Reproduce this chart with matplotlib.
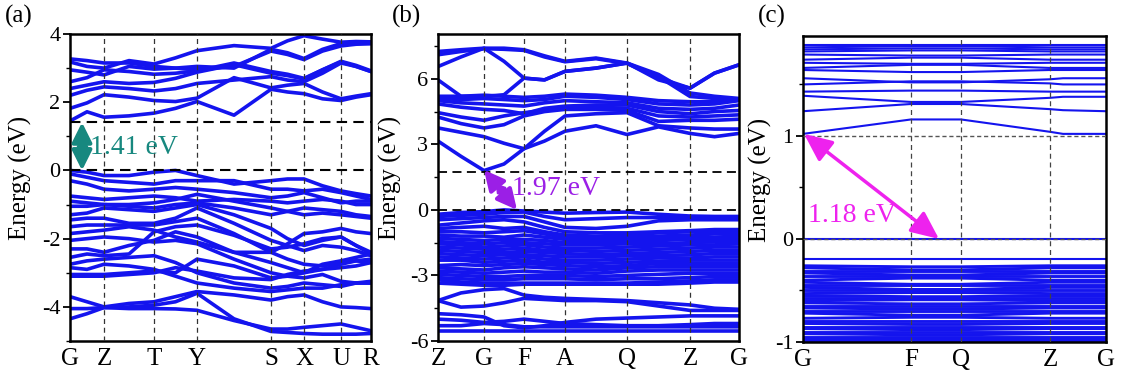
import numpy as np
import matplotlib
matplotlib.use('Agg')
import matplotlib.pyplot as plt
from matplotlib.ticker import MultipleLocator
from matplotlib.markers import MarkerStyle
from matplotlib.transforms import Affine2D

plt.rcParams['font.family'] = ['Liberation Serif', 'DejaVu Serif']
plt.rcParams['axes.unicode_minus'] = False

BLUE = '#1414EE'

# ---------------- panel (a) data ----------------
a_labels = ['G', 'Z', 'T', 'Y', 'S', 'X', 'U', 'R']
a_kpts = [0.0, 0.34, 0.84, 1.27, 2.01, 2.34, 2.71, 3.01]
a_gap = 1.41
# energies at G, G-Z, Z, Z-T, T, T-Y, Y, Y-S, S, S-X, X, X-U, U, U-R, R
a_cond = [
    [1.45, 1.72, 1.56, 1.60, 1.68, 1.82, 2.02, 1.62, 2.38, 2.30, 2.25, 2.10, 2.05, 2.15, 2.22],
    [1.82, 1.98, 2.22, 2.15, 2.05, 2.02, 2.12, 2.72, 2.42, 2.50, 2.55, 2.30, 2.10, 2.18, 2.25],
    [2.20, 2.35, 2.45, 2.40, 2.33, 2.40, 2.55, 2.65, 2.75, 2.65, 2.60, 2.85, 3.15, 3.05, 2.90],
    [2.40, 2.50, 2.60, 2.55, 2.58, 2.70, 2.88, 3.10, 2.85, 2.78, 2.68, 2.95, 3.20, 3.08, 2.92],
    [2.60, 2.72, 2.95, 2.90, 2.82, 2.85, 2.92, 3.15, 2.90, 2.82, 2.70, 2.95, 3.18, 3.05, 2.90],
    [2.95, 2.88, 2.80, 3.05, 2.97, 3.00, 3.05, 3.00, 3.55, 3.45, 3.28, 3.55, 3.72, 3.72, 3.72],
    [3.18, 3.05, 3.00, 3.22, 3.12, 3.30, 3.51, 3.66, 3.58, 3.80, 3.95, 3.85, 3.76, 3.78, 3.77],
    [3.27, 3.22, 3.15, 3.15, 3.05, 3.00, 2.95, 3.05, 3.50, 3.40, 3.25, 3.50, 3.65, 3.70, 3.72],
]
a_val = [
    [0.00, -0.05, -0.15, -0.15, -0.05, 0.00, -0.15, -0.40, -0.30, -0.25, -0.25, -0.45, -0.60, -0.68, -0.75],
    [-0.10, -0.20, -0.30, -0.35, -0.40, -0.30, -0.30, -0.30, -0.55, -0.55, -0.60, -0.55, -0.65, -0.75, -0.85],
    [-0.30, -0.40, -0.55, -0.60, -0.55, -0.50, -0.55, -0.65, -0.80, -0.75, -0.65, -0.80, -0.95, -0.90, -0.90],
    [-0.75, -0.80, -0.85, -0.80, -0.75, -0.80, -0.90, -0.85, -0.90, -0.95, -0.90, -0.85, -0.90, -1.00, -1.00],
    [-0.90, -0.95, -1.00, -1.00, -0.95, -0.85, -0.70, -0.90, -1.10, -1.20, -1.30, -1.25, -1.30, -1.35, -1.40],
    [-1.05, -1.05, -1.00, -1.05, -1.10, -1.00, -0.95, -1.10, -1.30, -1.20, -1.10, -1.15, -1.20, -1.30, -1.35],
    [-1.30, -1.25, -1.10, -1.15, -1.20, -1.10, -1.00, -1.30, -1.70, -2.00, -2.20, -2.05, -1.95, -2.20, -2.40],
    [-1.45, -1.40, -1.40, -1.55, -1.55, -1.40, -1.10, -1.55, -2.05, -2.20, -2.35, -2.20, -2.25, -2.35, -2.50],
    [-1.65, -1.60, -1.60, -1.60, -1.60, -1.50, -1.40, -1.85, -2.40, -2.60, -2.75, -2.80, -2.70, -2.65, -2.70],
    [-1.85, -1.80, -1.75, -1.65, -1.75, -1.95, -2.10, -2.40, -2.70, -2.85, -3.00, -2.90, -2.85, -2.80, -2.70],
    [-2.05, -2.00, -1.95, -2.00, -2.10, -2.05, -2.15, -2.60, -3.00, -3.10, -3.15, -3.05, -3.25, -3.30, -3.30],
    [-2.30, -2.30, -2.40, -2.20, -2.05, -1.80, -1.95, -2.40, -2.40, -2.15, -1.85, -1.80, -1.70, -1.80, -1.85],
    [-2.55, -2.45, -2.50, -2.45, -1.80, -1.65, -1.60, -1.90, -2.30, -2.25, -2.15, -2.00, -1.95, -2.20, -2.45],
    [-2.75, -2.65, -2.60, -2.55, -2.50, -2.70, -3.00, -3.30, -3.45, -3.40, -3.30, -3.35, -3.40, -3.30, -3.25],
    [-2.85, -2.90, -2.75, -2.80, -2.90, -3.10, -3.30, -3.45, -3.55, -3.50, -3.45, -3.45, -3.35, -3.30, -3.30],
    [-3.05, -3.05, -3.05, -3.00, -2.95, -3.00, -2.60, -2.80, -3.15, -3.10, -3.00, -2.75, -2.65, -2.55, -2.45],
    [-3.10, -3.10, -3.10, -3.05, -3.00, -2.85, -2.95, -3.15, -3.20, -3.05, -2.95, -2.90, -2.75, -2.65, -2.60],
    [-3.70, -3.85, -4.00, -3.90, -3.85, -3.70, -3.55, -3.65, -3.80, -3.70, -3.65, -3.85, -4.00, -4.02, -4.05],
    [-4.05, -4.05, -4.02, -4.05, -4.05, -4.06, -4.10, -4.40, -4.65, -4.65, -4.60, -4.55, -4.50, -4.60, -4.70],
    [-4.35, -4.20, -4.02, -4.00, -3.95, -3.85, -3.60, -4.35, -4.72, -4.75, -4.78, -4.80, -4.80, -4.80, -4.78],
]

# ---------------- panel (b) data ----------------
b_labels = ['Z', 'G', 'F', 'A', 'Q', 'Z', 'G']
b_kpts = [0.0, 0.46, 0.86, 1.27, 1.89, 2.52, 3.01]
b_cbm = 1.75
# energies at Z, Z-G, G, G-F, F, F-A, A, A-Q, Q, Q-Z, Z, Z-G, G
b_cond = [
    [3.15, 2.45, 1.80, 2.10, 2.80, 3.15, 3.60, 3.85, 3.45, 3.80, 3.50, 3.35, 3.50],
    [3.75, 3.55, 3.35, 3.05, 2.80, 3.60, 4.30, 4.40, 4.45, 3.85, 3.75, 3.70, 3.70],
    [4.25, 3.95, 3.75, 3.90, 4.30, 4.50, 4.60, 4.60, 4.55, 4.05, 4.10, 4.10, 4.15],
    [4.45, 4.25, 4.10, 4.30, 4.45, 4.55, 4.70, 4.70, 4.65, 4.30, 4.25, 4.30, 4.35],
    [4.85, 4.70, 4.60, 4.55, 4.40, 4.65, 4.75, 4.80, 4.80, 4.50, 4.40, 4.50, 4.55],
    [5.00, 4.90, 4.85, 4.80, 4.75, 4.90, 5.00, 4.95, 4.90, 4.65, 4.60, 4.65, 4.80],
    [5.10, 5.05, 5.10, 5.05, 5.00, 5.05, 5.20, 5.15, 5.05, 4.85, 4.80, 4.85, 5.00],
    [5.20, 5.20, 5.25, 5.20, 5.15, 5.20, 5.30, 5.25, 5.15, 5.00, 4.95, 4.95, 5.05],
    [5.95, 5.20, 5.19, 5.27, 6.03, 5.95, 6.34, 6.49, 6.72, 6.10, 5.19, 5.10, 5.04],
    [6.56, 7.00, 7.40, 6.80, 6.03, 5.95, 6.34, 6.49, 6.72, 6.20, 5.35, 5.20, 5.10],
    [7.10, 7.25, 7.38, 7.35, 7.30, 7.00, 6.78, 6.92, 6.70, 6.05, 5.57, 6.26, 6.64],
    [7.25, 7.33, 7.40, 7.40, 7.33, 7.05, 6.80, 6.95, 6.72, 5.95, 5.57, 6.26, 6.64],
]
b_val = [
    [-0.20, -0.12, -0.08, 0.00, -0.05, -0.10, -0.15, -0.12, -0.10, -0.20, -0.28, -0.30, -0.30],
    [-0.30, -0.25, -0.20, -0.12, -0.10, -0.30, -0.45, -0.40, -0.35, -0.35, -0.35, -0.40, -0.40],
    [-0.45, -0.40, -0.35, -0.30, -0.30, -0.55, -0.80, -0.85, -0.75, -0.50, -0.45, -0.45, -0.45],
    [-0.70, -0.60, -0.50, -0.45, -0.55, -0.80, -1.00, -1.05, -1.05, -1.00, -0.95, -0.90, -0.90],
    [-0.85, -0.80, -0.75, -0.85, -0.80, -1.00, -1.15, -1.20, -1.15, -1.05, -1.00, -1.00, -1.00],
    [-1.00, -1.00, -1.05, -1.00, -0.95, -1.10, -1.25, -1.30, -1.25, -1.20, -1.15, -1.10, -1.10],
    [-1.15, -1.20, -1.20, -1.25, -1.15, -1.25, -1.35, -1.40, -1.35, -1.30, -1.25, -1.25, -1.20],
    [-1.30, -1.35, -1.40, -1.35, -1.35, -1.40, -1.50, -1.50, -1.45, -1.40, -1.35, -1.35, -1.35],
    [-1.45, -1.50, -1.55, -1.50, -1.50, -1.55, -1.60, -1.60, -1.55, -1.55, -1.50, -1.45, -1.45],
    [-1.55, -1.60, -1.70, -1.65, -1.60, -1.70, -1.75, -1.75, -1.70, -1.65, -1.60, -1.60, -1.55],
    [-1.70, -1.75, -1.80, -1.80, -1.75, -1.85, -1.85, -1.90, -1.85, -1.80, -1.75, -1.70, -1.70],
    [-1.85, -1.90, -1.95, -1.95, -1.90, -1.95, -2.00, -2.05, -2.00, -1.95, -1.90, -1.85, -1.85],
    [-2.00, -2.05, -2.10, -2.05, -2.05, -2.10, -2.15, -2.15, -2.10, -2.10, -2.05, -2.00, -2.00],
    [-2.15, -2.20, -2.25, -2.20, -2.15, -2.25, -2.30, -2.30, -2.25, -2.20, -2.20, -2.15, -2.15],
    [-2.30, -2.30, -2.40, -2.35, -2.30, -2.40, -2.40, -2.45, -2.40, -2.35, -2.30, -2.30, -2.30],
    [-2.55, -2.50, -2.55, -2.50, -2.45, -2.50, -2.55, -2.60, -2.55, -2.45, -2.45, -2.45, -2.45],
    [-2.65, -2.70, -2.75, -2.65, -2.60, -2.65, -2.70, -2.75, -2.65, -2.60, -2.60, -2.60, -2.60],
    [-2.80, -2.85, -2.90, -2.85, -2.80, -2.85, -2.85, -2.90, -2.80, -2.75, -2.75, -2.75, -2.75],
    [-2.95, -3.00, -3.05, -3.05, -3.00, -3.00, -3.00, -3.05, -3.00, -2.95, -2.90, -2.90, -2.90],
    [-3.10, -3.15, -3.20, -3.20, -3.15, -3.15, -3.15, -3.20, -3.15, -3.15, -3.10, -3.05, -3.05],
    [-3.20, -3.30, -3.35, -3.35, -3.35, -3.35, -3.35, -3.35, -3.35, -3.30, -3.25, -3.20, -3.20],
    [-3.35, -3.40, -3.45, -3.45, -3.40, -3.40, -3.40, -3.40, -3.40, -3.40, -3.35, -3.30, -3.30],
    [-4.15, -3.80, -3.65, -3.60, -3.90, -4.00, -4.05, -4.10, -4.15, -4.25, -4.35, -4.50, -4.55],
    [-4.15, -4.45, -4.40, -4.25, -4.05, -4.10, -4.15, -4.15, -4.20, -4.40, -4.60, -4.60, -4.60],
    [-4.75, -4.80, -4.90, -5.30, -5.40, -5.30, -5.15, -5.00, -4.95, -4.90, -4.85, -4.85, -4.85],
    [-5.00, -5.05, -5.15, -5.10, -5.00, -5.10, -5.20, -5.25, -5.30, -5.30, -5.25, -5.20, -5.20],
    [-5.30, -5.30, -5.20, -5.25, -5.35, -5.35, -5.35, -5.35, -5.35, -5.35, -5.35, -5.35, -5.35],
    [-5.55, -5.55, -5.55, -5.55, -5.55, -5.55, -5.55, -5.55, -5.55, -5.55, -5.55, -5.55, -5.55],
]

# ---------------- panel (c) data ----------------
c_labels = ['G', 'F', 'Q', 'Z', 'G']
c_kpts = [0.0, 1.08, 1.58, 2.47, 3.03]
c_kgrid = [0.0, 1.08, 1.58, 2.47, 2.60, 3.03]
c_cbm = 1.02
# energies at G, F, Q, Z, just past Z, G
c_cond = [
    [1.02, 1.16, 1.16, 1.04, 1.02, 1.02],
    [1.24, 1.31, 1.31, 1.26, 1.25, 1.24],
    [1.39, 1.33, 1.33, 1.37, 1.38, 1.38],
    [1.43, 1.44, 1.44, 1.43, 1.43, 1.43],
    [1.50, 1.53, 1.53, 1.51, 1.50, 1.50],
    [1.56, 1.52, 1.52, 1.55, 1.56, 1.56],
    [1.64, 1.62, 1.62, 1.64, 1.64, 1.64],
    [1.66, 1.69, 1.69, 1.66, 1.66, 1.66],
    [1.71, 1.70, 1.70, 1.71, 1.71, 1.71],
    [1.74, 1.76, 1.76, 1.74, 1.74, 1.74],
    [1.79, 1.78, 1.78, 1.79, 1.79, 1.79],
    [1.82, 1.83, 1.83, 1.82, 1.82, 1.82],
    [1.84, 1.85, 1.85, 1.84, 1.84, 1.84],
    [1.86, 1.87, 1.87, 1.86, 1.86, 1.86],
    [1.88, 1.88, 1.88, 1.88, 1.88, 1.88],
]
c_val_top = [
    [-0.005, -0.005, -0.005, -0.005, -0.005, -0.005],
    [-0.19, -0.19, -0.19, -0.19, -0.19, -0.19],
]
c_val = [
    [-0.26, -0.27, -0.27, -0.26, -0.26, -0.26],
    [-0.28, -0.30, -0.30, -0.28, -0.28, -0.28],
    [-0.31, -0.31, -0.31, -0.31, -0.31, -0.31],
    [-0.33, -0.35, -0.35, -0.33, -0.33, -0.33],
    [-0.36, -0.36, -0.36, -0.36, -0.36, -0.36],
    [-0.40, -0.38, -0.38, -0.40, -0.40, -0.40],
    [-0.42, -0.44, -0.44, -0.42, -0.42, -0.42],
    [-0.45, -0.45, -0.45, -0.45, -0.45, -0.45],
    [-0.47, -0.49, -0.49, -0.47, -0.47, -0.47],
    [-0.50, -0.50, -0.50, -0.50, -0.50, -0.50],
    [-0.53, -0.52, -0.52, -0.53, -0.53, -0.53],
    [-0.55, -0.56, -0.56, -0.55, -0.55, -0.55],
    [-0.57, -0.57, -0.57, -0.57, -0.57, -0.57],
    [-0.60, -0.59, -0.59, -0.60, -0.60, -0.60],
    [-0.62, -0.63, -0.63, -0.62, -0.62, -0.62],
    [-0.65, -0.65, -0.65, -0.65, -0.65, -0.65],
    [-0.67, -0.68, -0.68, -0.67, -0.67, -0.67],
    [-0.70, -0.70, -0.70, -0.70, -0.70, -0.70],
    [-0.72, -0.74, -0.74, -0.72, -0.72, -0.72],
    [-0.77, -0.76, -0.76, -0.77, -0.77, -0.77],
    [-0.80, -0.80, -0.80, -0.80, -0.80, -0.80],
    [-0.82, -0.83, -0.83, -0.82, -0.82, -0.82],
    [-0.85, -0.85, -0.85, -0.85, -0.85, -0.85],
    [-0.87, -0.88, -0.88, -0.87, -0.87, -0.87],
    [-0.90, -0.90, -0.90, -0.90, -0.90, -0.90],
    [-0.92, -0.93, -0.93, -0.92, -0.92, -0.92],
    [-0.95, -0.95, -0.95, -0.95, -0.95, -0.95],
    [-0.97, -0.97, -0.97, -0.97, -0.97, -0.97],
    [-0.99, -0.99, -0.99, -0.99, -0.99, -0.99],
]


def with_midpoints(kpts):
    k = [kpts[0]]
    for a, b in zip(kpts[:-1], kpts[1:]):
        k += [(a + b) / 2.0, b]
    return np.array(k)


def setup_axes(ax, kpts, labels, ylim, major, minor, vcol, vlw):
    ax.set_xlim(kpts[0], kpts[-1])
    ax.set_ylim(*ylim)
    ax.set_xticks(kpts)
    ax.set_xticklabels(labels, fontsize=18)
    ax.tick_params(axis='x', length=0, pad=5)
    ax.yaxis.set_major_locator(MultipleLocator(major))
    ax.yaxis.set_minor_locator(MultipleLocator(minor))
    ax.tick_params(axis='y', which='major', direction='out', length=5, width=1.3,
                   labelsize=16, right=False, pad=2)
    ax.tick_params(axis='y', which='minor', direction='out', length=3, width=1.0, right=False)
    for s in ax.spines.values():
        s.set_linewidth(1.8)
    for k in kpts[1:-1]:
        ax.axvline(k, color=vcol, lw=vlw, ls=(0, (4, 3)), zorder=3)
    ax.set_ylabel('Energy (eV)', fontsize=18)


def gap_arrow(ax, p0, p1, color, angle):
    ax.annotate('', xy=p0, xytext=p1,
                arrowprops=dict(arrowstyle='<|-|>,head_width=0.5,head_length=1.0',
                                color=color, lw=3.0, mutation_scale=12,
                                shrinkA=0, shrinkB=0), zorder=5)
    mid = ((p0[0] + p1[0]) / 2, (p0[1] + p1[1]) / 2)
    ms = MarkerStyle('d', transform=Affine2D().rotate_deg(angle))
    ax.plot([mid[0]], [mid[1]], marker=ms, ms=8, color=color, mec=color, zorder=5)


fig = plt.figure(figsize=(11.21, 3.76), dpi=100)

# ---- (a)
axa = fig.add_axes([70 / 1121, 35 / 376, 301 / 1121, 307 / 376])
ka = with_midpoints(a_kpts)
for band in a_cond + a_val:
    axa.plot(ka, band, color=BLUE, lw=2.6, solid_joinstyle='round', zorder=2)
setup_axes(axa, a_kpts, a_labels, (-5, 4), 2, 1, '#333333', 0.9)
for y in (0, a_gap):
    axa.axhline(y, color='black', lw=1.5, ls=(0, (5, 3)), zorder=3)
axa.yaxis.set_label_coords(-0.126, 0.53)
TEAL = '#17887F'
gap_arrow(axa, (0.12, a_gap), (0.12, 0.0), TEAL, 0)
axa.text(0.20, 0.68, '%.2f eV' % a_gap, color=TEAL, fontsize=20, va='center', ha='left', zorder=5)

# ---- (b)
axb = fig.add_axes([438 / 1121, 35 / 376, 301 / 1121, 307 / 376])
kb = with_midpoints(b_kpts)
for band in b_cond + b_val:
    axb.plot(kb, band, color=BLUE, lw=2.6, solid_joinstyle='round', zorder=2)
setup_axes(axb, b_kpts, b_labels, (-6, 8.05), 3, 1.5, '#333333', 0.9)
for y in (0, b_cbm):
    axb.axhline(y, color='black', lw=1.3, ls=(0, (5, 3)), zorder=3)
axb.yaxis.set_label_coords(-0.12, 0.53)
PURPLE = '#9B1FE6'
gap_arrow(axb, (b_kpts[1], 1.83), (0.79, 0.0), PURPLE, 39)
axb.text(0.74, 1.0, '1.97 eV', color=PURPLE, fontsize=20, va='center', ha='left', zorder=5)

# ---- (c)
axc = fig.add_axes([803 / 1121, 34 / 376, 303 / 1121, 306 / 376])
for band in c_cond + c_val_top:
    axc.plot(c_kgrid, band, color=BLUE, lw=1.5, zorder=2)
for band in c_val:
    axc.plot(c_kgrid, band, color=BLUE, lw=2.1, zorder=2)
setup_axes(axc, c_kpts, c_labels, (-1, 1.97), 1, 0.5, '#444444', 0.9)
for y in (0, 1.0):
    axc.axhline(y, color='#555555', lw=1.0, ls=(0, (3, 2)), zorder=3)
axc.yaxis.set_label_coords(-0.102, 0.53)
MAG = '#EE22EE'
axc.annotate('', xy=(0.01, c_cbm), xytext=(1.36, 0.0),
             arrowprops=dict(arrowstyle='<|-|>,head_width=0.45,head_length=1.0',
                             color=MAG, lw=2.5, mutation_scale=17,
                             shrinkA=0, shrinkB=0), zorder=5)
axc.text(0.05, 0.23, '1.18 eV', color=MAG, fontsize=20, va='center', ha='left', zorder=5)

fig.text(5 / 1121, 1 - 16 / 376, '(a)', fontsize=18, va='center', ha='left')
fig.text(392 / 1121, 1 - 16 / 376, '(b)', fontsize=18, va='center', ha='left')
fig.text(758 / 1121, 1 - 16 / 376, '(c)', fontsize=18, va='center', ha='left')

fig.savefig('out.png', dpi=100, facecolor='white')
